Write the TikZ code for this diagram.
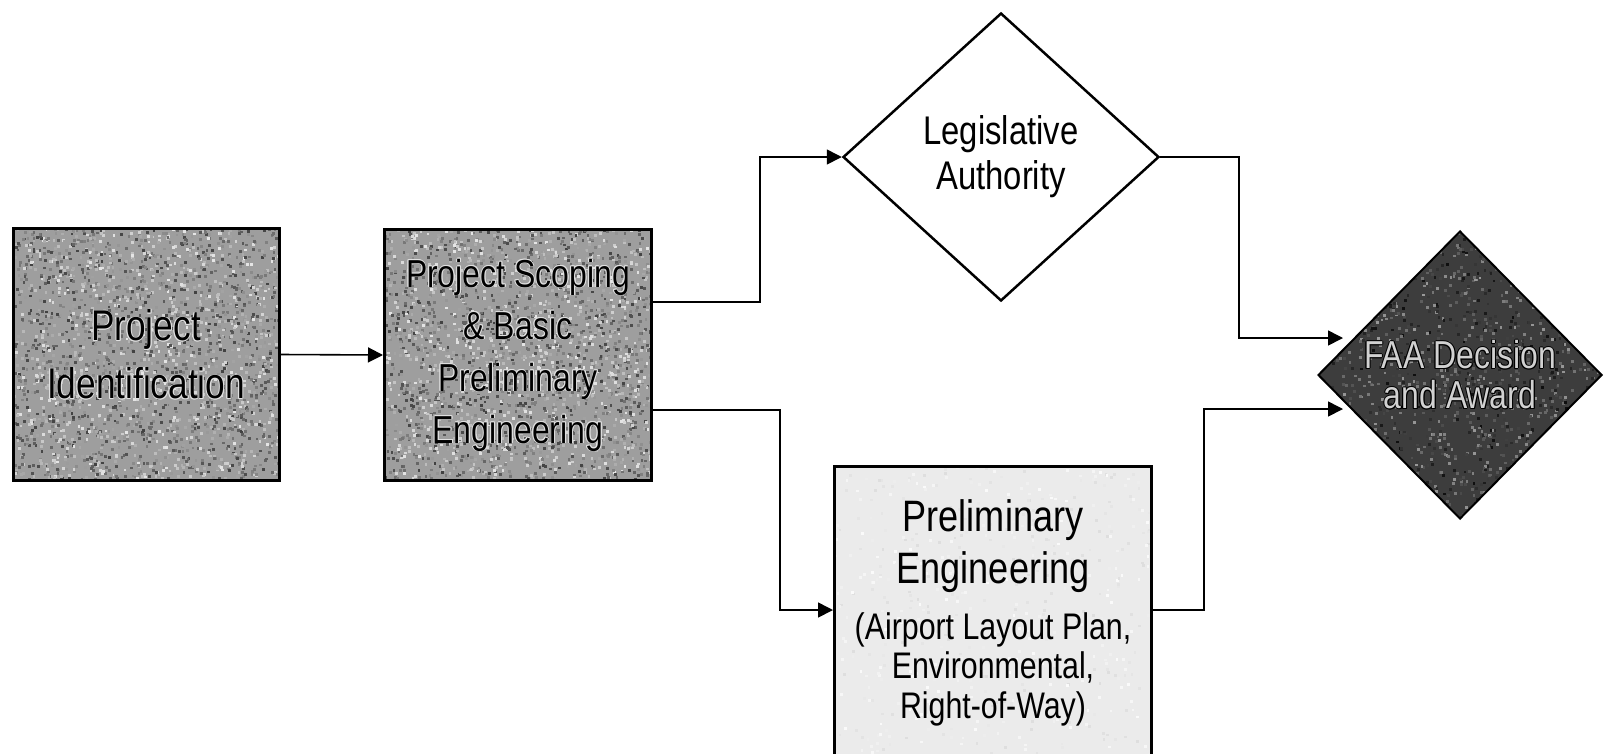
\documentclass[tikz,border=0pt]{standalone}
\usepackage{fontspec}
\setmainfont{Liberation Sans}[FakeStretch=0.82]
\usetikzlibrary{shapes.geometric,arrows.meta}

\definecolor{midfill}{gray}{0.62}
\definecolor{lightfill}{gray}{0.92}
\definecolor{darkfill}{gray}{0.24}
\definecolor{haloclr}{gray}{0.88}
\definecolor{faatext}{gray}{0.82}

% text drawn over eight shifted copies of itself in a second colour
% #1 colour, #2 straight offset, #3 diagonal offset, #4 text
\newcommand{\ringed}[4]{\leavevmode{\color{#1}%
  \rlap{\kern#2\relax #4}\rlap{\kern-#2\relax #4}%
  \rlap{\raise#2\hbox{#4}}\rlap{\lower#2\hbox{#4}}%
  \rlap{\kern#3\raise#3\hbox{#4}}\rlap{\kern-#3\raise#3\hbox{#4}}%
  \rlap{\kern#3\lower#3\hbox{#4}}\rlap{\kern-#3\lower#3\hbox{#4}}}%
  {\color{.}#4}}
% dark lettering with a pale halo, and pale lettering with a dark rim
\newcommand{\halo}[1]{\ringed{haloclr}{0.8pt}{0.56pt}{#1}}
\newcommand{\rimtext}[1]{{\color{faatext}\ringed{black}{1.0pt}{0.7pt}{#1}}}

% grainy fill: random grey specks inside the shape's path
% #1 = lightest share of black, #2 = spread, #3 = number of specks,
% #4, #5 = extent of the area to cover
\newcommand{\grain}[5]{%
  \path (path picture bounding box.south west) coordinate (ppsw);
  \foreach \k in {1,...,#3}{%
    \pgfmathsetmacro\rx{#4*rnd}%
    \pgfmathsetmacro\ry{-#5*rnd}%
    \pgfmathtruncatemacro\g{#1+#2*rnd}%
    \fill[black!\g] ([shift={(\rx,\ry)}]ppsw) rectangle ++(2.8,-2.8);
  }}

\tikzset{
  stagebox/.style={rectangle, draw=black, line width=3pt, inner sep=0pt, align=center},
  gatebox/.style={diamond, draw=black, inner sep=0pt, align=center},
  conn/.style={line width=1.6pt, -{Triangle[length=15pt,width=15pt]}},
}

\begin{document}
\begin{tikzpicture}[x=1pt,y=-1pt]
  \pgfmathsetseed{4711}
  \useasboundingbox (0,0) rectangle (1605,753);
  \clip (0,0) rectangle (1605,753);

  % process stages
  \node[stagebox, fill=midfill, minimum width=266pt, minimum height=252pt,
        path picture={\grain{10}{65}{2500}{270}{256}},
        font=\fontsize{43}{58}\selectfont] (pid) at (146,354.5)
       {\halo{Project}\\\halo{Identification}};

  \node[stagebox, fill=midfill, minimum width=267pt, minimum height=251pt,
        path picture={\grain{10}{65}{2500}{270}{256}},
        font=\fontsize{39}{52}\selectfont] (psc) at (518,355)
       {\halo{Project Scoping}\\\halo{\& Basic}\\\halo{Preliminary}\\\halo{Engineering}};

  % decision points
  \node[gatebox, line width=2.5pt, fill=white, minimum width=316pt, minimum height=288pt,
        font=\fontsize{40}{45}\selectfont] (leg) at (1001,157)
       {Legislative\\Authority};

  \node[gatebox, line width=2pt, fill=darkfill, minimum width=284pt, minimum height=288pt,
        path picture={\grain{40}{55}{1700}{288}{292}},
        font=\fontsize{39}{40}\selectfont] (faa) at (1460,375)
       {\rimtext{FAA Decision}\\\rimtext{and Award}};

  % preliminary engineering box, running past the lower edge
  \node[stagebox, fill=lightfill, minimum width=317pt, minimum height=400pt,
        path picture={\grain{2}{12}{800}{320}{404}}] (pe) at (993,666.5) {};
  \node[anchor=north, align=center, inner sep=0pt, font=\fontsize{44}{52}\selectfont]
       (pet) at (993,499)
       {Preliminary\\Engineering\\[4pt]
        {\fontsize{37}{40}\selectfont (Airport Layout Plan,}\\[-13pt]
        {\fontsize{37}{40}\selectfont Environmental,}\\[-12pt]
        {\fontsize{37}{40}\selectfont Right-of-Way)}};

  % arrow ends at the final decision
  \coordinate (faaInA) at (1343,338);
  \coordinate (faaInB) at (1343,409);

  % connectors
  \draw[conn] (pid.east) -- (psc.west);
  \draw[conn] ([yshift=53pt]psc.east) -- ++(107,0) |- (leg.west);
  \draw[conn] ([yshift=-55pt]psc.east) -- ++(127,0) |- ([yshift=-145pt]pe.north west);
  \draw[conn] (leg.east) -- ++(79,0) |- (faaInA);
  \draw[conn] ([yshift=-145pt]pe.north east) -- ++(51,0) |- (faaInB);
\end{tikzpicture}
\end{document}
